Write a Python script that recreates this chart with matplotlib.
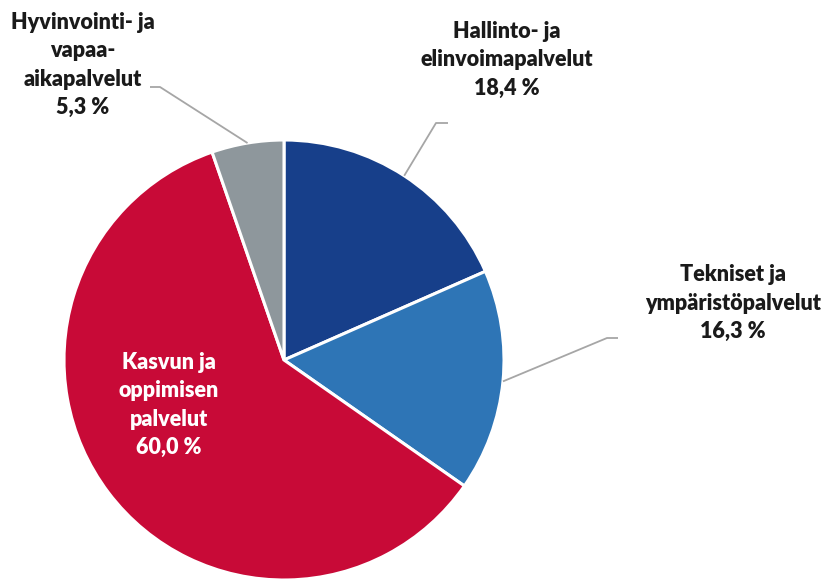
#!/usr/bin/env python3
import numpy as np
import matplotlib
matplotlib.use('Agg')
import matplotlib.pyplot as plt

labels = ['Hallinto- ja\nelinvoimapalvelut', 'Tekniset ja\nympäristöpalvelut',
          'Kasvun ja\noppimisen\npalvelut', 'Hyvinvointi- ja\nvapaa-\naikapalvelut']
values = [18.4, 16.3, 60.0, 5.3]
colors = ['#173f8a', '#2e75b6', '#c80a37', '#8e979c']

plt.rcParams['font.family'] = ['Lato', 'DejaVu Sans']

fig = plt.figure(figsize=(8.3, 5.81), dpi=100)
ax = fig.add_axes([0, 0, 1, 1])

cx, cy, r = 284, 221, 220
wedges, _ = ax.pie(values, colors=colors, startangle=90, counterclock=False,
                   center=(cx, cy), radius=r, frame=True,
                   wedgeprops=dict(edgecolor='white', linewidth=2.2))
ax.set_xlim(0, 830)
ax.set_ylim(0, 581)
ax.set_aspect('equal')
ax.axis('off')

# label text centre, leader elbow
txt_pos = [(507, 521), (733, 278), (169, 176), (83, 516)]
elbows = [((448, 458), (436, 458)), ((618, 243), (607, 243)), None, ((150, 494), (160, 494))]

for i, w in enumerate(wedges):
    s = '%s\n%s %%' % (labels[i], ('%.1f' % values[i]).replace('.', ','))
    col = 'white' if i == 2 else '#1a1a1a'
    ax.text(txt_pos[i][0], txt_pos[i][1], s, ha='center', va='center',
            fontsize=15.5, fontweight='heavy', color=col, linespacing=1.42)
    if elbows[i] is not None:
        ang = np.deg2rad((w.theta1 + w.theta2) / 2)
        ex = cx + r * np.cos(ang)
        ey = cy + r * np.sin(ang)
        (x0, y0), (x1, y1) = elbows[i]
        ax.plot([x0, x1, ex], [y0, y1, ey], color='#a6a6a6', lw=1.3,
                solid_capstyle='butt')

plt.savefig('out.png', dpi=100)
